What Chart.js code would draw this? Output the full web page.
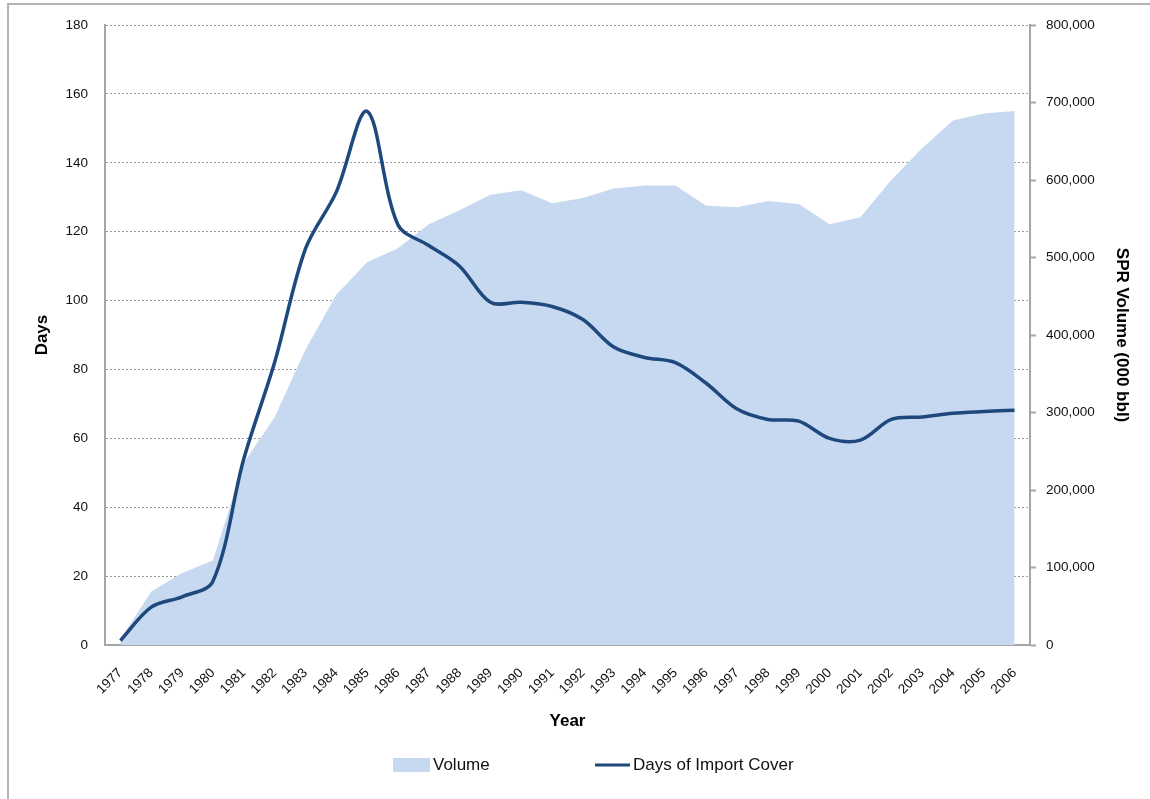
<!DOCTYPE html>
<html>
<head>
<meta charset="utf-8">
<title>SPR Volume and Days of Import Cover</title>
<script src="https://cdn.jsdelivr.net/npm/chart.js@4.4.1/dist/chart.umd.min.js"></script>
<style>
  html, body { margin: 0; padding: 0; background: #fff; }
  #wrap { width: 1150px; height: 799px; position: relative; }
</style>
</head>
<body>
<div id="wrap"><canvas id="sprChart" width="1150" height="799"></canvas></div>
<script>
// Data
const years = [
  "1977", "1978", "1979", "1980", "1981", "1982", "1983", "1984", "1985", "1986",
  "1987", "1988", "1989", "1990", "1991", "1992", "1993", "1994", "1995", "1996",
  "1997", "1998", "1999", "2000", "2001", "2002", "2003", "2004", "2005", "2006",
];
// SPR volume, 000 bbl (right axis)
const volume = [
  7500, 69000, 93000, 109000, 235000, 294000, 381000, 452000, 494000, 512000,
  543000, 561000, 581000, 587000, 570000, 577000, 589000, 593000, 593000, 567000,
  565000, 573000, 569000, 543000, 552000, 600000, 641000, 677000, 686000, 689000,
];
// Days of import cover (left axis)
const days = [
  1.3, 11, 14, 18.5, 54, 82, 115, 131.5, 155, 122,
  116, 110, 99.5, 99.5, 98.3, 94.5, 86.5, 83.5, 82, 76,
  68.5, 65.5, 65, 60, 59.5, 65.5, 66.2, 67.3, 67.8, 68.2,
];
const daysTicks = { min: 0, max: 180, step: 20 };
const volumeTicks = { min: 0, max: 800000, step: 100000 };

// Styles
const FONT = "'Liberation Sans', Arial, sans-serif";
const AREA_COLOR = "#c6d9f0";
const LINE_COLOR = "#1f497d";
const AXIS_COLOR = "#a6a6a6";

// Legend drawn under the plot, taken from the datasets
const bottomLegend = {
  id: "bottomLegend",
  afterDraw(chart) {
    const ctx = chart.ctx;
    const ds = chart.data.datasets;
    const y = 765;
    ctx.save();
    ctx.font = "17px " + FONT;
    ctx.textBaseline = "middle";
    // Volume (area)
    const area = ds[1];
    ctx.fillStyle = area.backgroundColor;
    ctx.fillRect(393, y - 7, 37, 14);
    ctx.fillStyle = "#111";
    ctx.fillText(area.label, 433, y);
    // Days (line)
    const line = ds[0];
    ctx.strokeStyle = line.borderColor;
    ctx.lineWidth = 3;
    ctx.beginPath();
    ctx.moveTo(595, y);
    ctx.lineTo(630, y);
    ctx.stroke();
    ctx.fillText(line.label, 633, y);
    // outer frame (left and top)
    ctx.strokeStyle = "#b4b4b4";
    ctx.lineWidth = 2;
    ctx.beginPath();
    ctx.moveTo(8, 800);
    ctx.lineTo(8, 4);
    ctx.lineTo(1150, 4);
    ctx.stroke();
    ctx.restore();
  },
};

const ctx = document.getElementById("sprChart").getContext("2d");
const chart = new Chart(ctx, {
  type: "line",
  data: {
    labels: years,
    datasets: [
      {
        label: "Days of Import Cover",
        data: days,
        yAxisID: "y",
        borderColor: LINE_COLOR,
        borderWidth: 3.5,
        pointRadius: 0,
        fill: false,
        tension: 0.33,
        order: 1,
      },
      {
        label: "Volume",
        data: volume,
        yAxisID: "y1",
        backgroundColor: AREA_COLOR,
        borderWidth: 0,
        pointRadius: 0,
        fill: "origin",
        tension: 0,
        order: 2,
      },
    ],
  },
  options: {
    responsive: false,
    animation: false,
    layout: { padding: { top: 22, left: 0, right: 0, bottom: 54 } },
    plugins: {
      legend: { display: false },
      tooltip: { enabled: false },
    },
    scales: {
      x: {
        type: "category",
        offset: true,
        grid: { display: false, drawTicks: false },
        border: { display: true, color: AXIS_COLOR, width: 2 },
        ticks: {
          minRotation: 45,
          maxRotation: 45,
          autoSkip: false,
          padding: 20,
          color: "#111",
          font: { family: FONT, size: 13.5 },
        },
        title: {
          display: true,
          text: "Year",
          color: "#000",
          font: { family: FONT, size: 17, weight: "bold" },
          padding: { top: 0, bottom: 13 },
        },
        afterFit(scale) {
          scale.height = 100;
        },
      },
      y: {
        position: "left",
        min: daysTicks.min,
        max: daysTicks.max,
        grid: { color: "#9a9a9a", lineWidth: 1, drawTicks: false },
        border: { display: true, color: AXIS_COLOR, width: 2, dash: [2, 2] },
        ticks: {
          stepSize: daysTicks.step,
          padding: 17,
          color: "#111",
          font: { family: FONT, size: 13.5 },
        },
        title: {
          display: true,
          text: "Days",
          color: "#000",
          font: { family: FONT, size: 17, weight: "bold" },
          padding: { top: 32, bottom: 0 },
        },
        afterFit(scale) {
          scale.width = 105;
        },
      },
      y1: {
        position: "right",
        min: volumeTicks.min,
        max: volumeTicks.max,
        grid: {
          drawOnChartArea: false,
          drawTicks: true,
          tickLength: 6,
          tickColor: AXIS_COLOR,
          tickWidth: 2,
        },
        border: { display: true, color: AXIS_COLOR, width: 2 },
        ticks: {
          stepSize: volumeTicks.step,
          padding: 10,
          color: "#111",
          font: { family: FONT, size: 13.5 },
          callback: (v) => v.toLocaleString("en-US"),
        },
        title: {
          display: true,
          text: "SPR Volume (000 bbl)",
          color: "#000",
          font: { family: FONT, size: 17, weight: "bold" },
          padding: { top: 18, bottom: 0 },
        },
        afterFit(scale) {
          scale.width = 120;
        },
      },
    },
  },
  plugins: [bottomLegend],
});
</script>
</body>
</html>
